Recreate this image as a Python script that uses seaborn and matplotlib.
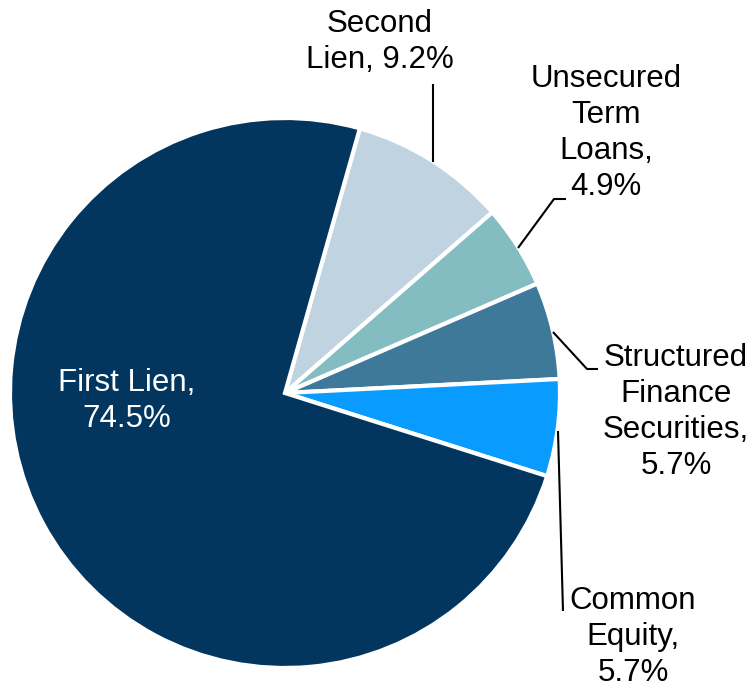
import matplotlib
matplotlib.use("Agg")
import matplotlib.pyplot as plt
import seaborn as sns

# ---- data ----
categories = ["Second Lien", "Unsecured Term Loans", "Structured Finance Securities",
              "Common Equity", "First Lien"]
values = [9.2, 4.9, 5.7, 5.7, 74.5]
label_texts = ["Second\nLien, 9.2%", "Unsecured\nTerm\nLoans,\n4.9%",
               "Structured\nFinance\nSecurities,\n5.7%", "Common\nEquity,\n5.7%",
               "First Lien,\n74.5%"]
colors = ["#BFD3E0", "#84BDC1", "#3F7999", "#0A9BFF", "#03365E"]

sns.set_theme(style="white")
plt.rcParams["font.family"] = ["Liberation Sans", "DejaVu Sans"]

W, H = 756, 690
fig = plt.figure(figsize=(W / 100, H / 100), dpi=100)
ax = fig.add_axes([0, 0, 1, 1])

def Y(y):
    return H - y

ax.pie(values, colors=colors, startangle=74.2, counterclock=False,
       center=(285, Y(393)), radius=275,
       wedgeprops=dict(edgecolor="white", linewidth=3))
ax.set_xlim(0, W)
ax.set_ylim(0, H)
ax.set_aspect("equal")
ax.axis("off")

fs = 22.5
# label positions (pixel coords of text centers)
label_pos = [(380, 42), (606, 133), (676, 412), (633, 637), (127, 401)]
text_colors = ["black", "black", "black", "black", "white"]
for txt, (x, y), c in zip(label_texts, label_pos, text_colors):
    ax.text(x, Y(y), txt, ha="center", va="center", fontsize=fs, color=c,
            linespacing=1.26)

# leader lines
leaders = [
    [(433, 162), (433, 84)],
    [(518, 248), (554, 199), (566, 199)],
    [(553, 332), (587, 369), (598, 369)],
    [(558, 431), (563, 611)],
]
for pts in leaders:
    xs = [p[0] for p in pts]
    ys = [Y(p[1]) for p in pts]
    ax.plot(xs, ys, color="black", lw=1.5, solid_capstyle="butt")

fig.savefig("out.png", dpi=100, facecolor="white")
